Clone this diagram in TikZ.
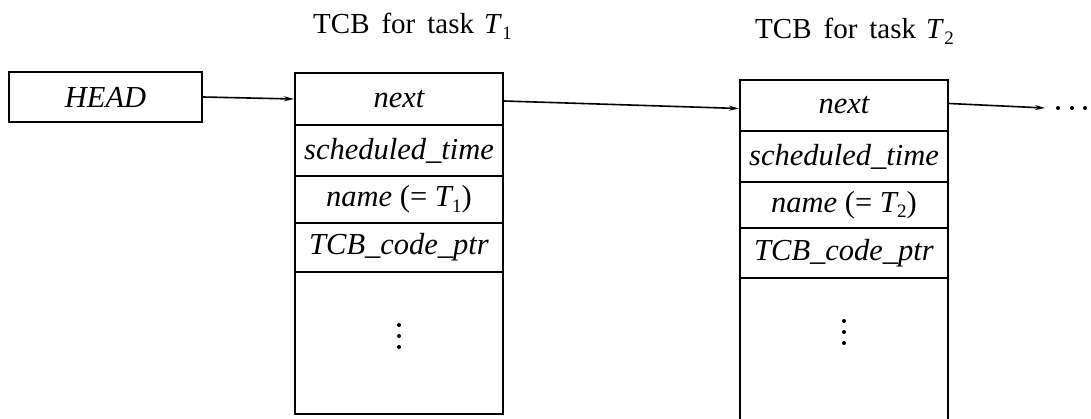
\documentclass[tikz,border=0pt]{standalone}
\usepackage{fontspec}
\setmainfont{Liberation Serif}
\usetikzlibrary{arrows.meta}
% italic T with an upright subscript digit
\newcommand\Tsub[1]{\textit{T}\kern0.3pt\raisebox{-0.18em}{\fontsize{19}{20}\selectfont\upshape #1}}
\begin{document}
\begin{tikzpicture}[x=1pt,y=-1pt,
  field/.style={draw, line width=2pt, minimum width=208pt, inner sep=0pt,
                font=\fontsize{30.5}{32}\selectfont\itshape},
  link/.style={line width=1.6pt, -{Stealth[length=10pt,width=5pt]}},
  title/.style={anchor=base west, inner sep=0pt, font=\fontsize{29}{32}\selectfont}]
\useasboundingbox (0,0) rectangle (1091,419);
\clip (0,0) rectangle (1091,419);

% list head
\node[field, minimum width=193pt, minimum height=50pt] (head) at (105.5,97) {HEAD};

% control block of the first task
\node[title] (ttl1) at (313,34) {TCB\hspace{12pt}for\hspace{12pt}task\hspace{10pt}\Tsub{1}};
\node[field, minimum height=52pt]  (a1) at (399,99)    {next};
\node[field, minimum height=51pt]  (a2) at (399,150.5) {scheduled\_time};
\node[field, minimum height=47pt]  (a3) at (399,199.5) {name {\upshape(=} \Tsub{1}{\upshape)}};
\node[field, minimum height=49pt]  (a4) at (399,247.5) {TCB\_code\_ptr};
\node[field, minimum height=142pt] (a5) at (399,343)   {};
\foreach \d in {-11,0,11}
  \fill ([yshift=-\d pt+7pt]a5.center) circle (2pt);

% control block of the second task
\node[title] (ttl2) at (755,39) {TCB\hspace{12pt}for\hspace{12pt}task\hspace{10pt}\Tsub{2}};
\node[field, minimum height=51pt]  (b1) at (844,105.5) {next};
\node[field, minimum height=51pt]  (b2) at (844,156.5) {scheduled\_time};
\node[field, minimum height=46pt]  (b3) at (844,205)   {name {\upshape(=} \Tsub{2}{\upshape)}};
\node[field, minimum height=50pt]  (b4) at (844,253)   {TCB\_code\_ptr};
\node[field, minimum height=162pt] (b5) at (844,359)   {};
\foreach \d in {-11,0,11}
  \fill ([yshift=-\d pt+27pt]b5.center) circle (2pt);

% links
\coordinate (tail) at (1045,108);
\draw[link] (head.east) -- (a1.west);
\draw[link] ([yshift=-2pt]a1.east) -- ([yshift=-3pt]b1.west);
\draw[link] ([yshift=2pt]b1.east) -- (tail);
\foreach \x in {1058,1072,1085}
  \fill (\x,108) circle (2pt);
\end{tikzpicture}
\end{document}
